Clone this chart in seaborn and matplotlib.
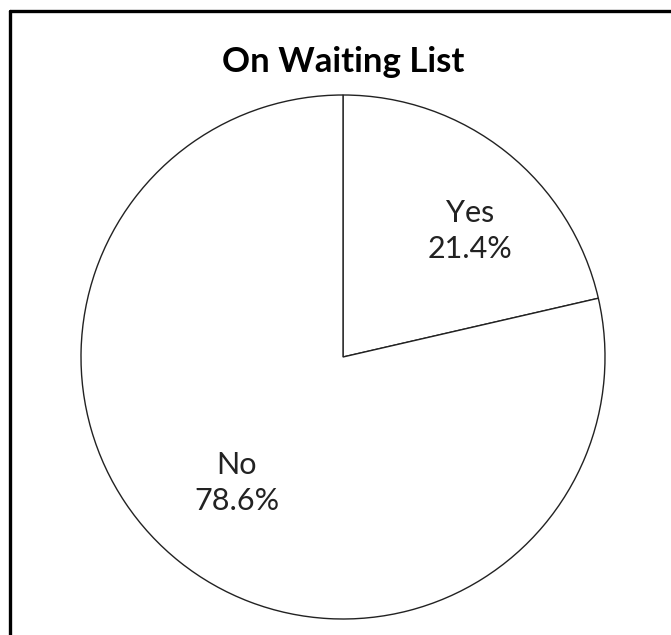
import matplotlib
matplotlib.use("Agg")
import matplotlib.pyplot as plt
from matplotlib.lines import Line2D
import seaborn as sns

labels = ["Yes", "No"]
shares = [21.4, 78.6]
title = "On Waiting List"

sns.set_theme(style="white")
plt.rcParams["font.family"] = ["Lato", "DejaVu Sans"]

W, H = 671, 635
fig = plt.figure(figsize=(W / 100, H / 100), dpi=100)
fig.patch.set_facecolor("white")

# pie axes: centre (343, 357) px, radius 262 px
cx, cy, r = 343, 357, 262
ax = fig.add_axes([(cx - r) / W, (H - cy - r) / H, 2 * r / W, 2 * r / H])

wedges, _ = ax.pie(
    shares,
    startangle=90,
    counterclock=False,
    colors=["white", "white"],
    wedgeprops=dict(edgecolor="#222222", linewidth=1.0),
)
ax.set_xlim(-1, 1)
ax.set_ylim(-1, 1)
ax.set_aspect("equal")
ax.axis("off")

# data labels
label_pos = {"Yes": (0.485, 0.48), "No": (-0.405, -0.48)}
for lab, val in zip(labels, shares):
    x, y = label_pos[lab]
    ax.text(x, y, f"{lab}\n{val:.1f}%", ha="center", va="center",
            fontsize=22, color="#222222", linespacing=1.35)

fig.text(343 / W, 1 - 62 / H, title, ha="center", va="center",
         fontsize=25, fontweight="bold", color="black")

# frame on top and left edge
fig.add_artist(Line2D([9.5 / W, 1], [1 - 10.5 / H, 1 - 10.5 / H],
                      transform=fig.transFigure, color="black", lw=2.4))
fig.add_artist(Line2D([9.5 / W, 9.5 / W], [0, 1 - 10.5 / H],
                      transform=fig.transFigure, color="black", lw=2.4))

fig.savefig("out.png", dpi=100)
